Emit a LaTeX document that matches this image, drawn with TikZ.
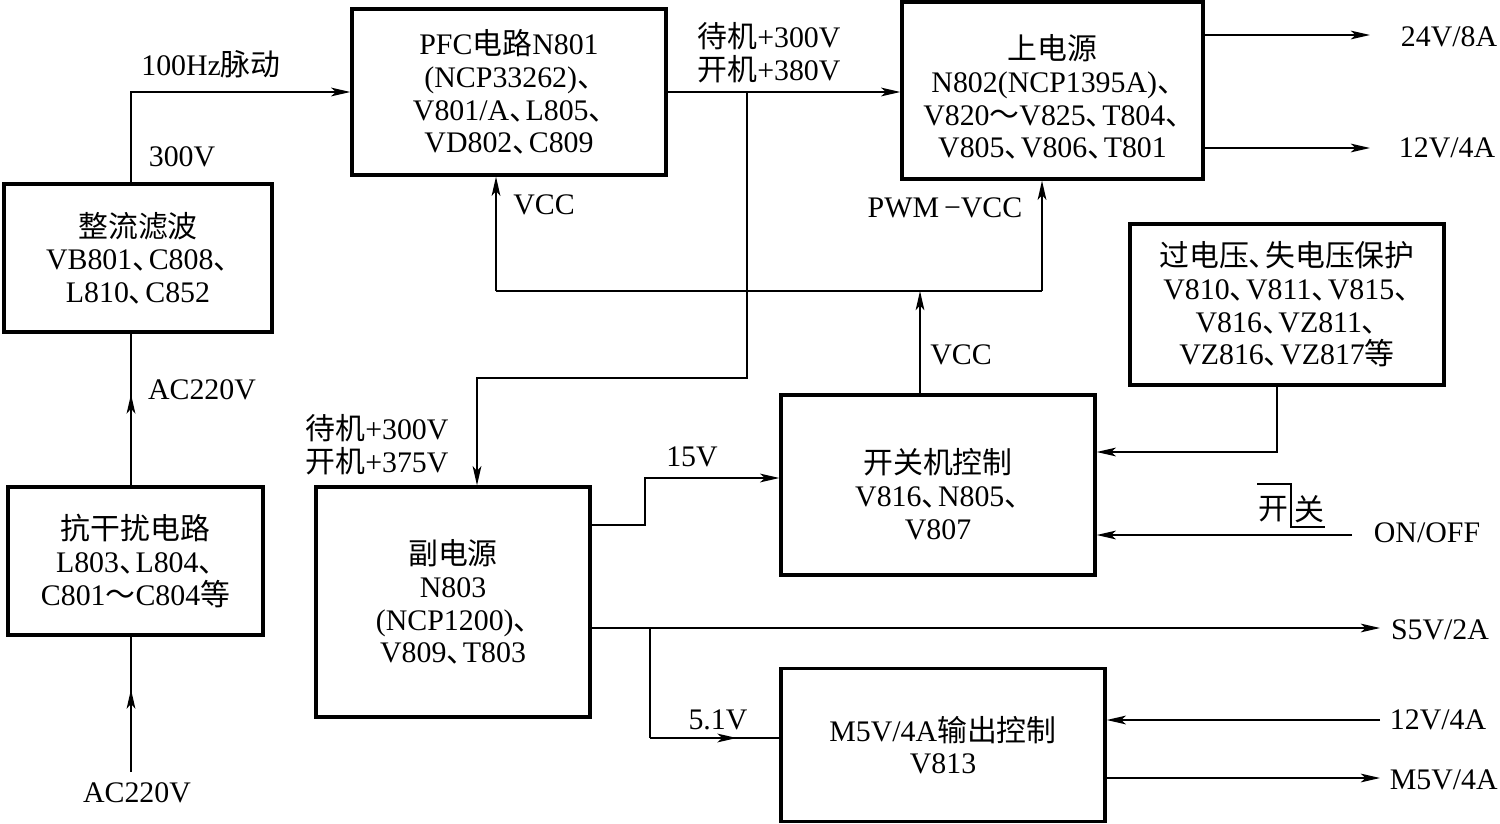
\documentclass[tikz,border=0pt]{standalone}
\usepackage{fontspec}
\setmainfont{Liberation Serif}
\newfontfamily\cjkfont{Noto Sans CJK SC}
\newcommand\ZH[1]{{\cjkfont #1}}
\newcommand\DN{\makebox[0.55em][l]{\cjkfont 、}}
\usetikzlibrary{arrows.meta,decorations.markings}
\begin{document}
\begin{tikzpicture}[x=0.02cm,y=-0.02cm,
  every node/.style={font=\fontsize{17}{18.6}\selectfont,inner sep=0pt},
  blk/.style={draw,line width=1.9pt,align=center},
  lbl/.style={align=left},
  wire/.style={line width=0.8pt},
  arr/.style={wire,-{Stealth[length=11pt,width=5pt,inset=2.8pt]}},
  midarr/.style={wire,postaction={decorate},decoration={markings,
    mark=at position #1 with {\arrow{Stealth[length=11pt,width=5pt,inset=2.8pt]}}}}]
\useasboundingbox (0,0) rectangle (1500,824);

% blocks
\node[blk,minimum width=268*0.02cm,minimum height=148*0.02cm] (zl) at (138,258)
  {\ZH{整流滤波}\\VB801\DN C808\DN\\L810\DN C852};
\node[blk,minimum width=255*0.02cm,minimum height=148*0.02cm] (kg) at (135.5,561)
  {\ZH{抗干扰电路}\\L803\DN L804\DN\\C801\ZH{～}C804\ZH{等}};
\node[blk,minimum width=314*0.02cm,minimum height=166*0.02cm] (pfc) at (509,92)
  {PFC\ZH{电路}N801\\(NCP33262)\DN\\V801/A\DN L805\DN\\VD802\DN C809};
\node[blk,minimum width=301*0.02cm,minimum height=177*0.02cm] (main) at (1052.5,90.5) {};
\node[align=center] (maint) at (1052.5,97)
  {\ZH{上电源}\\N802(NCP1395A)\DN\\V820\ZH{～}V825\DN T804\DN\\V805\DN V806\DN T801};
\node[blk,minimum width=314*0.02cm,minimum height=161*0.02cm] (ov) at (1287,304.5)
  {\ZH{过电压}\DN\ZH{失电压保护}\\V810\DN V811\DN V815\DN\\V816\DN VZ811\DN\\VZ816\DN VZ817\ZH{等}};
\node[blk,minimum width=314*0.02cm,minimum height=180*0.02cm] (sw) at (938,485) {};
\node[align=center] (swt) at (938,494)
  {\ZH{开关机控制}\\V816\DN N805\DN\\V807};
\node[blk,minimum width=274*0.02cm,minimum height=230*0.02cm] (sub) at (453,602)
  {\ZH{副电源}\\N803\\(NCP1200)\DN\\V809\DN T803};
\node[blk,minimum width=324*0.02cm,minimum height=153*0.02cm] (m5) at (943,745)
  {M5V/4A\ZH{输出控制}\\V813};

% helper coordinates
\coordinate (acin) at (131,772);
\coordinate (j1) at (747,92);
\coordinate (xs) at (477,378);
\coordinate (vl) at (496,291);
\coordinate (vr) at (1042,291);
\coordinate (vc) at (920,291);
\coordinate (ovc) at (1277,452);
\coordinate (onoff) at (1352,535);
\coordinate (s15a) at (645,525);
\coordinate (t15) at (645,478);
\coordinate (s5) at (1380,628);
\coordinate (j5) at (650,628);
\coordinate (c5) at (650,738);
\coordinate (i12) at (1380,720);
\coordinate (o5) at (1380,778);
\coordinate (o24) at (1370,35);
\coordinate (o12) at (1370,148);

% connectors
\draw[midarr=0.61] (acin) -- (acin |- kg.south);
\draw[midarr=0.6] (acin |- kg.north) -- (acin |- zl.south);
\draw[arr] (acin |- zl.north) |- (pfc.west);
\draw[arr] (pfc.east) -- (pfc.east -| main.west);
\draw[arr] (j1) |- (xs) -- (xs |- sub.north);
\draw[arr] (vl) -- (vl |- pfc.south);
\draw[wire] (vl) -- (vr);
\draw[arr] (vr) -- (vr |- main.south);
\draw[arr] (vc |- sw.north) -- (vc);
\draw[arr] (ovc |- ov.south) -- (ovc) -- (ovc -| sw.east);
\draw[arr] (onoff) -- (onoff -| sw.east);
\draw[arr] (s15a -| sub.east) -- (s15a) -- (t15) -- (t15 -| sw.west);
\draw[arr] (s5 -| sub.east) -- (s5);
\draw[wire] (j5) -- (c5);
\draw[midarr=0.67] (c5) -- (c5 -| m5.west);
\draw[arr] (i12) -- (i12 -| m5.east);
\draw[arr] (o5 -| m5.east) -- (o5);
\draw[arr] (o24 -| main.east) -- (o24);
\draw[arr] (o12 -| main.east) -- (o12);

% switch symbol
\node (swk) at (1273,509) {\ZH{开}};
\node (swg) at (1309,509) {\ZH{关}};
\draw[wire] (1257,484) -- (1291,484) -- (1291,527) -- (1325,527);

% labels
\node (l100) at (211,64) {100Hz\ZH{脉动}};
\node (l300) at (182,157) {300V};
\node (lac1) at (202,390) {AC220V};
\node (lac2) at (137,793) {AC220V};
\node[lbl] (lpfc) at (769,53) {\ZH{待机}+300V\\\ZH{开机}+380V};
\node (lvcc1) at (544,205) {VCC};
\node (lpwm) at (945,208) {PWM\,−VCC};
\node (lvcc2) at (961,355) {VCC};
\node[lbl] (lsub) at (377,445) {\ZH{待机}+300V\\\ZH{开机}+375V};
\node (l15) at (692,457) {15V};
\node (l51) at (718,720) {5.1V};
\node (o24t) at (1449,37) {24V/8A};
\node (o12t) at (1447,148) {12V/4A};
\node (s5t) at (1440,630) {S5V/2A};
\node (i12t) at (1438,720) {12V/4A};
\node[anchor=east] (o5t) at (1498,780) {M5V/4A};
\node (onofft) at (1427,533) {ON/OFF};
\end{tikzpicture}
\end{document}
